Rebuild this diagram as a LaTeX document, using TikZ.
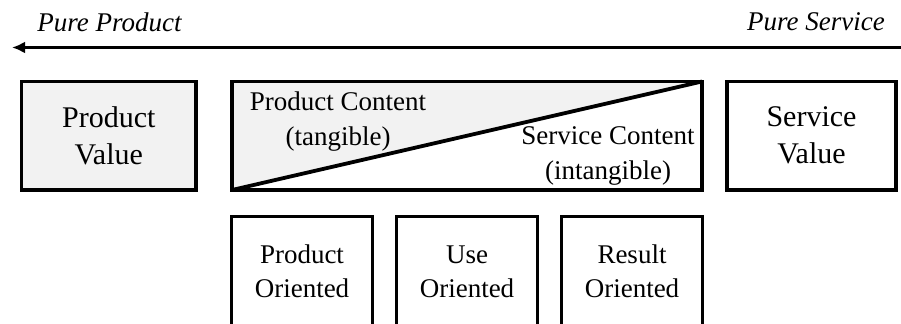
\documentclass[tikz,border=0pt]{standalone}
\usepackage{fontspec}
\setmainfont{Liberation Serif}
\usetikzlibrary{positioning, arrows.meta, backgrounds}
\definecolor{lightfill}{RGB}{242,242,242}
\tikzstyle{block} = [draw, rectangle, line width=1.9pt,
    outer sep=0pt, inner sep=0pt, align=center,
    minimum height=54.25pt, font=\fontsize{15}{18.5}\selectfont]
\tikzstyle{smallblock} = [block, minimum width=70.5pt,
    minimum height=55.25pt, font=\fontsize{13.5}{17}\selectfont]
\tikzstyle{contenttext} = [align=center, inner sep=0pt,
    font=\fontsize{13.5}{17.5}\selectfont]
\tikzstyle{endtext} = [inner sep=0pt, font=\fontsize{13.5}{16}\selectfont\itshape]

\begin{document}
\begin{tikzpicture}[x=0.5pt, y=-0.5pt, node distance=2cm]
        \useasboundingbox (0,0) rectangle (901,324);
        \clip (0,0) rectangle (901,324);

        % value boxes
        \node[
            block,
            fill=lightfill,
            minimum width=87.25pt,
            text depth=-2pt
        ](pv) at (108.75,135.75){Product\\Value};

        \node[
            block,
            right of=pv,
            minimum width=235pt,
            node distance=179.125pt
        ](content){};

        \node[
            block,
            right of=content,
            minimum width=84.5pt,
            node distance=172.25pt
        ](sv){Service\\Value};

        % business models
        \node[
            smallblock,
            below of=content,
            node distance=68pt
        ](use){Use\\Oriented};

        \node[
            smallblock,
            left of=use,
            node distance=82.5pt
        ](prodor){Product\\Oriented};

        \node[
            smallblock,
            right of=use,
            node distance=82.5pt
        ](resor){Result\\Oriented};

        % split of the content box
        \begin{scope}[on background layer]
            \fill[lightfill] (content.south west) -- (content.north west)
                -- (content.north east) -- cycle;
        \end{scope}
        \draw[line width=1.9pt] (content.south west) -- (content.north east);

        \node[contenttext](pc) at (338,122){Product Content\\(tangible)};
        \node[contenttext](sc) at (608,156){Service Content\\(intangible)};

        % scale
        \coordinate (svend) at (901,47.5);
        \coordinate (pvend) at (12,47.5);
        \draw[line width=1.5pt, -{Latex[length=6.5pt,width=6pt]}] (svend) -- (pvend);

        \node[endtext](pp) at (109.5,22){Pure Product};
        \node[endtext](ps) at (816,22){Pure Service};
    \end{tikzpicture}
\end{document}
